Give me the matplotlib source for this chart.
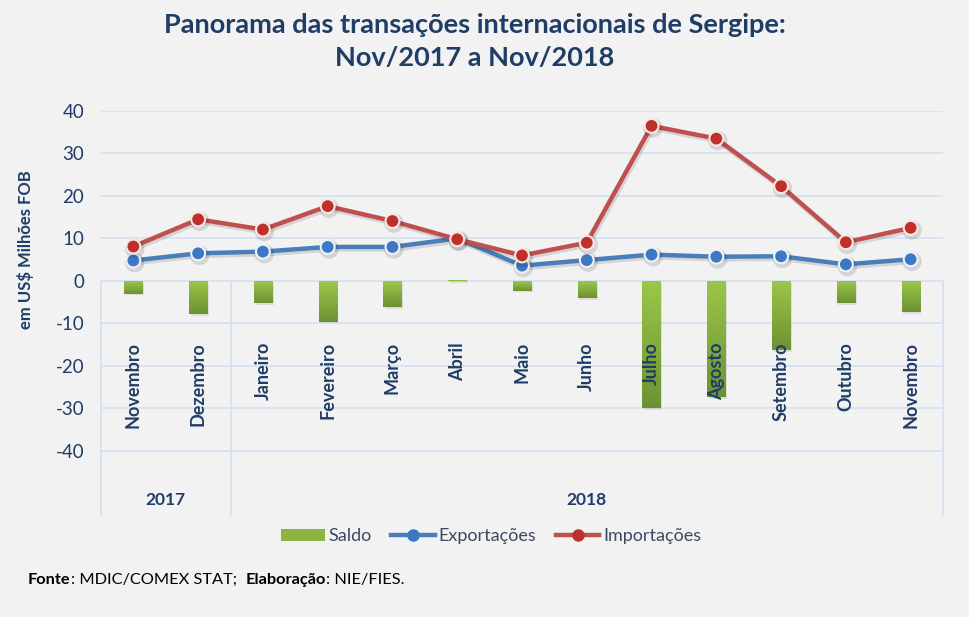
import numpy as np
import matplotlib
matplotlib.use('Agg')
import matplotlib.pyplot as plt
from matplotlib.lines import Line2D
from matplotlib.patches import Patch
import matplotlib.patheffects as pe

plt.rcParams['font.family'] = ['Lato', 'DejaVu Sans']
plt.rcParams['axes.unicode_minus'] = False

# data (US$ milhoes FOB)
meses = ['Novembro', 'Dezembro', 'Janeiro', 'Fevereiro', 'Março', 'Abril', 'Maio',
         'Junho', 'Julho', 'Agosto', 'Setembro', 'Outubro', 'Novembro']
anos = ['2017', '2018']
meses_por_ano = [2, 11]
exportacoes = [4.8, 6.5, 6.9, 8.0, 8.0, 10.0, 3.6, 4.9, 6.2, 5.7, 5.8, 3.9, 5.1]
importacoes = [8.1, 14.5, 12.1, 17.6, 14.1, 9.8, 6.0, 9.0, 36.5, 33.5, 22.3, 9.1, 12.5]
saldo = [-3.0, -7.8, -5.2, -9.6, -6.1, 0.3, -2.3, -4.0, -30.0, -27.4, -16.3, -5.3, -7.3]

fundo = '#f2f2f2'
grade = '#d6e2f2'
azul_txt = '#1f3d66'
verde = '#8db543'
azul = '#4a7ebb'
vermelho = '#c0504d'

fig = plt.figure(figsize=(9.69, 6.17), dpi=100, facecolor=fundo)
ax = fig.add_axes([0.1042, 0.1653, 0.869, 0.6548])
ax.set_facecolor(fundo)

x = np.arange(len(meses))

# grid lines
ax.set_yticks(range(-40, 41, 10))
ax.yaxis.grid(True, color=grade, linewidth=1.3)
ax.set_axisbelow(True)
for s in ax.spines.values():
    s.set_visible(False)
ax.set_xticks([])
ax.tick_params(axis='y', length=0, pad=12, labelsize=13.5, labelcolor=azul_txt)

# category separators below zero
limites = [-0.5] + list(np.cumsum(meses_por_ano) - 0.5)
for b in limites:
    ax.plot([b, b], [0, -55.1], color=grade, linewidth=1.3, zorder=1, clip_on=False)

# saldo bars with a vertical gradient
barras = ax.bar(x, saldo, width=0.28, color=verde, zorder=2,
                path_effects=[pe.SimplePatchShadow(offset=(1.2, -1.2), alpha=0.1), pe.Normal()])
grad = np.linspace(0, 1, 256).reshape(-1, 1)
cmap = matplotlib.colors.LinearSegmentedColormap.from_list('g', ['#9cc74a', '#6d9132'])
for b, v in zip(barras, saldo):
    x0 = b.get_x()
    w = b.get_width()
    if v < 0:
        ext = [x0, x0 + w, v, 0]
    else:
        ext = [x0, x0 + w, 0, v]
    im = ax.imshow(grad, extent=ext, aspect='auto', cmap=cmap, zorder=2.1,
                   origin='upper' if v < 0 else 'lower')
    im.set_clip_path(b)
ax.set_xlim(-0.5, len(meses) - 0.5)
ax.set_ylim(-55.1, 40)

sombra = [pe.SimpleLineShadow(offset=(1, -1.5), alpha=0.12, linewidth=4), pe.Normal()]
ax.plot(x, exportacoes, color=azul, linewidth=3.2, marker='o', markersize=10,
        markerfacecolor='#3c78c3', markeredgecolor='#eef2f8', markeredgewidth=1.5,
        zorder=4, path_effects=sombra)
ax.plot(x, importacoes, color=vermelho, linewidth=3.2, marker='o', markersize=10,
        markerfacecolor='#c0302b', markeredgecolor='#f8e8e2', markeredgewidth=1.5,
        zorder=5, path_effects=sombra)

# month labels
for i, m in enumerate(meses):
    ax.text(i, -14.4, m, rotation=90, ha='center', va='top', fontsize=13,
            fontweight='bold', color=azul_txt, zorder=6)

# year labels
for a, ini, fim in zip(anos, limites[:-1], limites[1:]):
    ax.text((ini + fim) / 2, -51.5, a, ha='center', va='center', fontsize=12.5,
            fontweight='bold', color=azul_txt)

ax.set_ylabel('em US$ Milhões FOB', fontsize=12, fontweight='bold', color=azul_txt)
ax.yaxis.set_label_coords(-0.08, 0.658)

fig.text(0.49, 0.979, 'Panorama das transações internacionais de Sergipe:\nNov/2017 a Nov/2018',
         ha='center', va='top', fontsize=19.5, fontweight='bold', color=azul_txt,
         linespacing=1.45)

handles = [Patch(facecolor=verde, label='Saldo'),
           Line2D([], [], color=azul, linewidth=3.2, marker='o', markersize=8,
                  markerfacecolor='#3c78c3', markeredgecolor='#3c78c3', label='Exportações'),
           Line2D([], [], color=vermelho, linewidth=3.2, marker='o', markersize=8,
                  markerfacecolor='#c0302b', markeredgecolor='#c0302b', label='Importações')]
leg = fig.legend(handles=handles, loc='center', bbox_to_anchor=(0.507, 0.131), ncol=3,
                 frameon=False, fontsize=13, handlelength=2.4, handletextpad=0.2,
                 columnspacing=1.1)
for t in leg.get_texts():
    t.set_color('#3b4a63')

# footer: pieces side by side, some bold
partes = [('Fonte', 'bold'), (': MDIC/COMEX STAT;  ', 'normal'),
          ('Elaboração', 'bold'), (': NIE/FIES.', 'normal')]
fig.canvas.draw()
r = fig.canvas.get_renderer()
xpos = 28
for txt, peso in partes:
    t = fig.text(xpos / 969, 0.06, txt, fontsize=11.8, fontweight=peso, color='black',
                 va='center')
    xpos = t.get_window_extent(r).x1

fig.savefig('out.png', dpi=100, facecolor=fundo)
